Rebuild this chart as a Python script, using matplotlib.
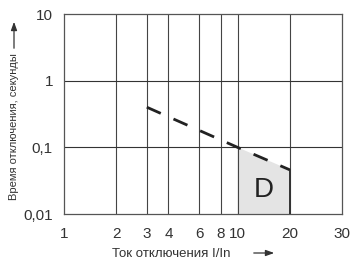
import matplotlib
matplotlib.use("Agg")
import matplotlib.pyplot as plt

plt.rcParams["font.family"] = ["Liberation Sans Narrow", "Liberation Sans", "DejaVu Sans"]

# axis ticks (the "30" label sits at the right edge, as in the reference)
x_ticks = [1, 2, 3, 4, 6, 8, 10, 20, 40]
x_labels = ["1", "2", "3", "4", "6", "8", "10", "20", "30"]
y_ticks = [0.01, 0.1, 1, 10]
y_labels = ["0,01", "0,1", "1", "10"]

# tripping characteristic (dashed) and zone D
curve_x = [3, 10, 20]
curve_y = [0.4, 0.1, 0.046]
zone_x = [10, 10, 20, 20]
zone_y = [0.01, 0.1, 0.046, 0.01]
zone_label = "D"

fig = plt.figure(figsize=(3.52, 2.61), dpi=100)
ax = fig.add_axes([64 / 352, 47 / 261, 278 / 352, 200 / 261])
ax.set_xscale("log")
ax.set_yscale("log")
ax.set_xlim(1, 40)
ax.set_ylim(0.01, 10)

ax.fill(zone_x, zone_y, color="#e4e4e4", zorder=1, lw=0)
ax.plot([zone_x[2], zone_x[3]], [zone_y[2], zone_y[3]], color="#333333", lw=1.4, zorder=3)

for xv in x_ticks[1:-1]:
    ax.axvline(xv, color="#444444", lw=0.8, zorder=2)
for yv in y_ticks[1:-1]:
    ax.axhline(yv, color="#333333", lw=0.8, zorder=2)

ax.plot(curve_x, curve_y, color="#222222", lw=2.0, dashes=(5.5, 5), zorder=4)
ax.text(14.2, 0.023, zone_label, fontsize=20, color="#222222",
        ha="center", va="center", family=["Liberation Sans", "DejaVu Sans"])

ax.set_xticks(x_ticks)
ax.set_xticklabels(x_labels)
ax.set_yticks(y_ticks)
ax.set_yticklabels(y_labels)
ax.minorticks_off()
ax.tick_params(length=0, labelsize=11, colors="#333333", pad=9)
ax.tick_params(axis="y", pad=8)
for s in ax.spines.values():
    s.set_color("#555555")
    s.set_linewidth(0.9)

fig.text(171 / 352, 1 - 254 / 261, "Ток отключения I/In", fontsize=9.5,
         color="#333333", ha="center", va="center")
fig.text(14 / 352, 1 - 127 / 261, "Время отключения, секунды", fontsize=8,
         color="#333333", ha="center", va="center", rotation=90)

arrow = dict(arrowstyle="-|>,head_length=0.5,head_width=0.18", color="#333333", lw=0.9)
fig.add_artist(plt.Annotation("", xy=(277 / 352, 1 - 253 / 261), xytext=(251 / 352, 1 - 253 / 261),
                              xycoords="figure fraction", arrowprops=arrow))
fig.add_artist(plt.Annotation("", xy=(14 / 352, 1 - 19 / 261), xytext=(14 / 352, 1 - 51 / 261),
                              xycoords="figure fraction", arrowprops=arrow))

fig.savefig("out.png", dpi=100)
